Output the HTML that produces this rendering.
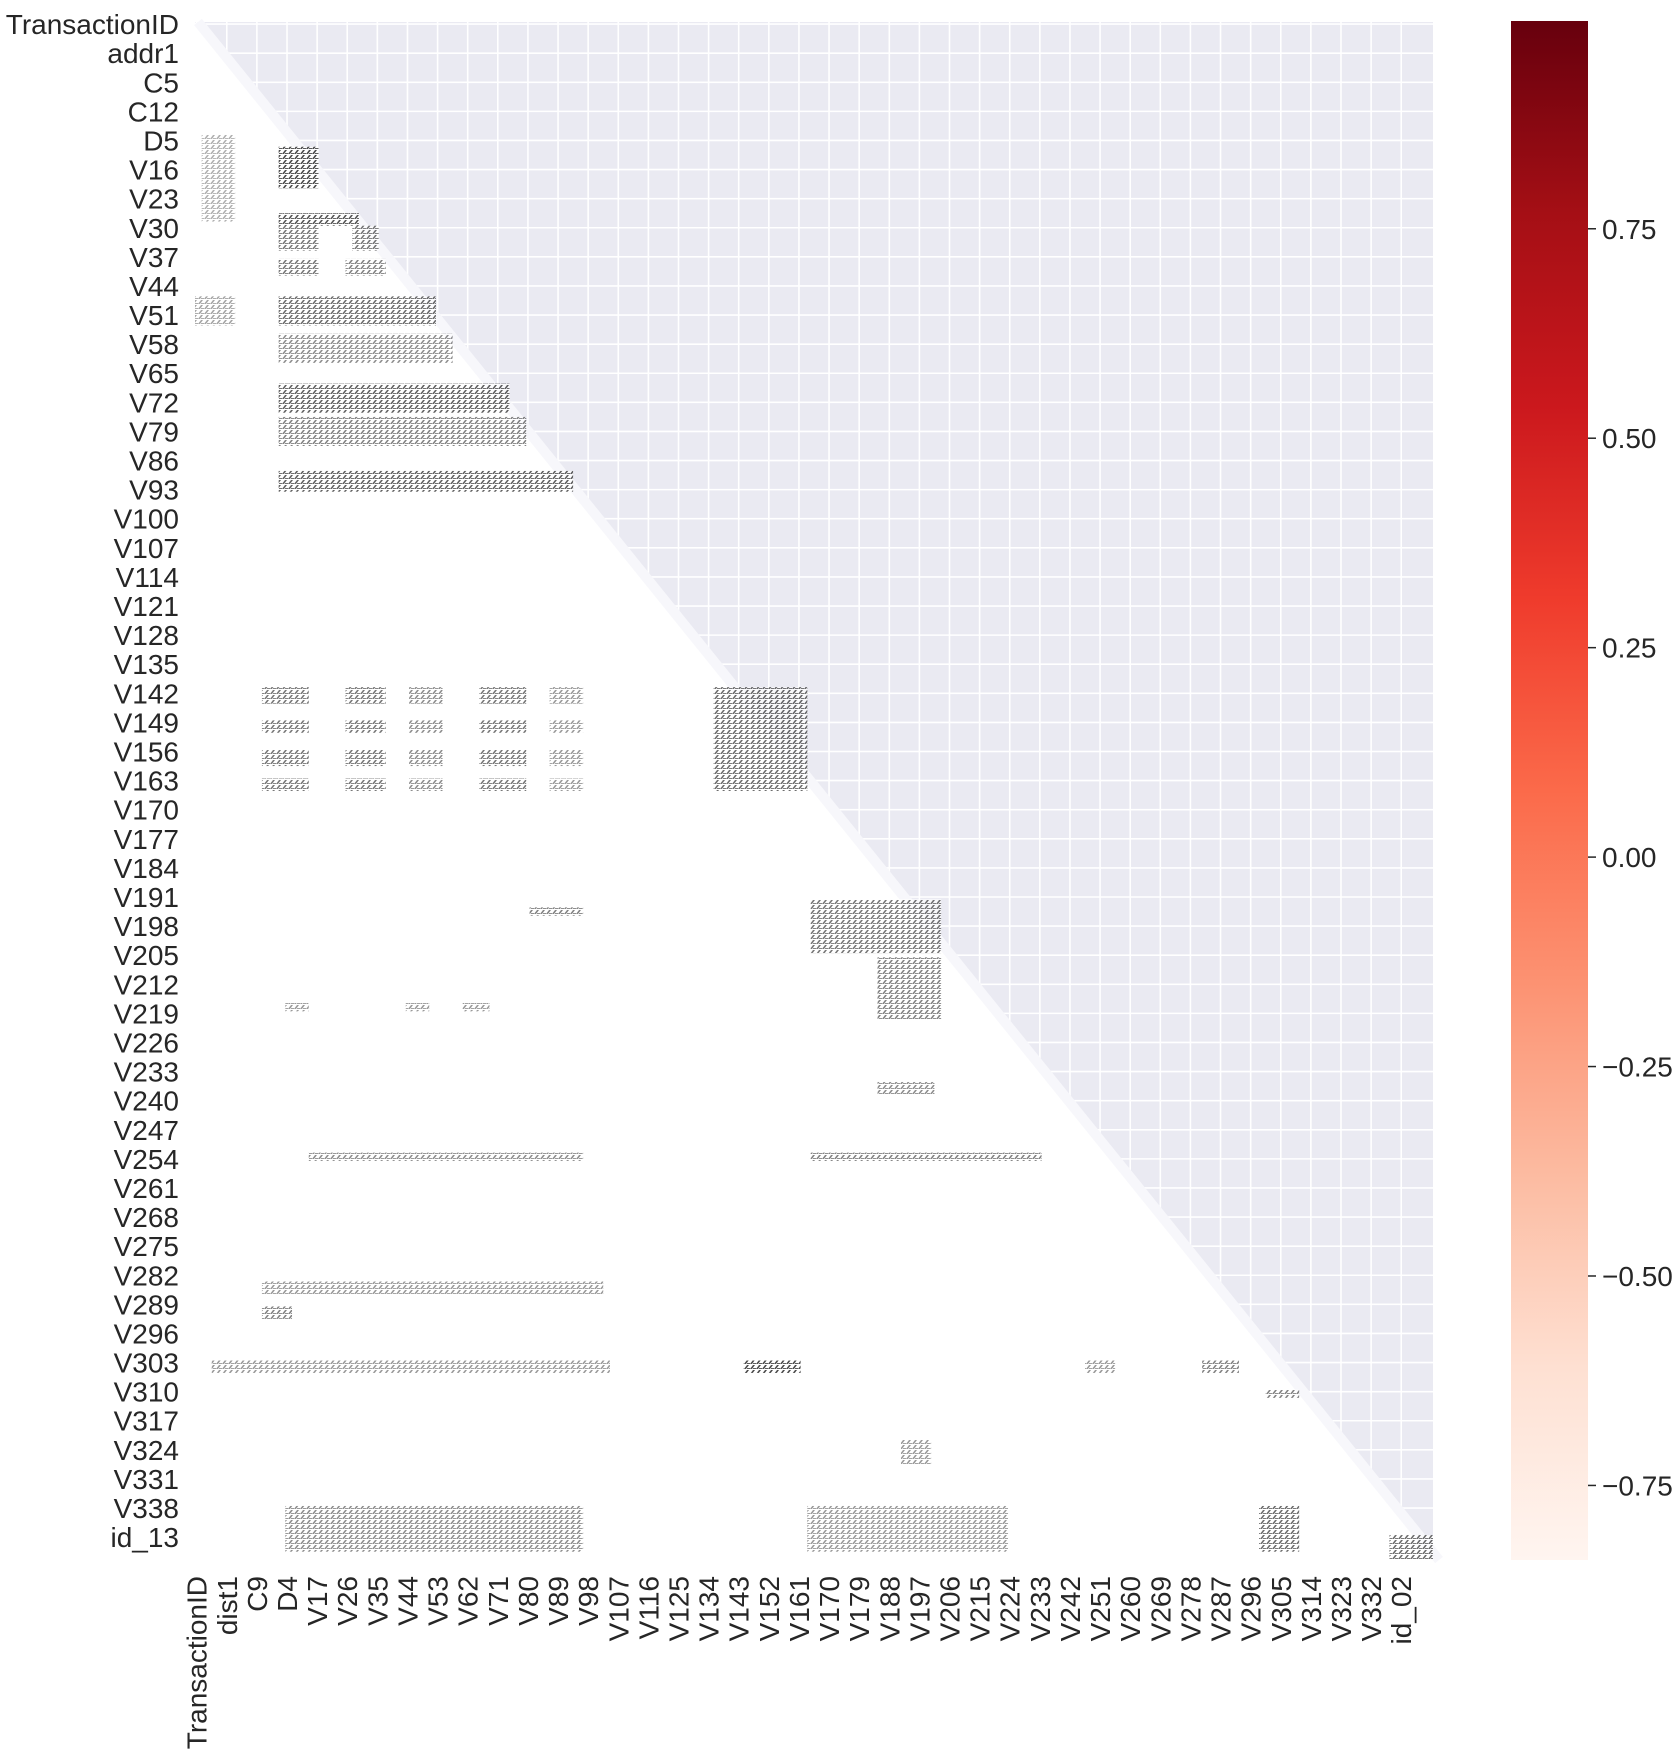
<!DOCTYPE html>
<html><head><meta charset="utf-8"><style>
html,body{margin:0;padding:0;background:#fff;}
svg text{font-family:"Liberation Sans",Arial,sans-serif;fill:#262626;}
</style></head><body>
<svg id="chart" width="1680" height="1754" xmlns="http://www.w3.org/2000/svg">
<defs>
<pattern id="hatch" width="6" height="5" patternUnits="userSpaceOnUse">
<rect width="6" height="5" fill="#fff"/>
<path d="M0,4 L3,0 L5,0 L2,4 Z" fill="#1e1e1e"/>
<rect x="3" y="3" width="3" height="1" fill="#333"/>
</pattern>
<linearGradient id="reds" x1="0" y1="1" x2="0" y2="0">
<stop offset="0" stop-color="#fff5f0"/><stop offset="0.125" stop-color="#fee0d2"/>
<stop offset="0.25" stop-color="#fcbba1"/><stop offset="0.375" stop-color="#fc9272"/>
<stop offset="0.5" stop-color="#fb6a4a"/><stop offset="0.625" stop-color="#ef3b2c"/>
<stop offset="0.75" stop-color="#cb181d"/><stop offset="0.875" stop-color="#a50f15"/>
<stop offset="1" stop-color="#67000d"/>
</linearGradient>
</defs>
<g id="plot"></g>
<g id="cbar"></g>
</svg>
<script>
// ---- data ----
const nVars = 370;
const yTickLabels = ["TransactionID","addr1","C5","C12","D5","V16","V23","V30","V37","V44","V51","V58","V65","V72","V79","V86","V93","V100","V107","V114","V121","V128","V135","V142","V149","V156","V163","V170","V177","V184","V191","V198","V205","V212","V219","V226","V233","V240","V247","V254","V261","V268","V275","V282","V289","V296","V303","V310","V317","V324","V331","V338","id_13"];
const xTickLabels = ["TransactionID","dist1","C9","D4","V17","V26","V35","V44","V53","V62","V71","V80","V89","V98","V107","V116","V125","V134","V143","V152","V161","V170","V179","V188","V197","V206","V215","V224","V233","V242","V251","V260","V269","V278","V287","V296","V305","V314","V323","V332","id_02"];
const yTickStep = 7;
const xTickStep = 9;
// strongly-correlated blocks (annotated regions): row start/end, col start/end, strength
const blockRowStart = [30,27,46,49,49,57,57,66,66,75,87,95,108,
  160,160,160,160,160,168,168,168,168,168,175,175,175,175,175,182,182,182,182,182,
  160,211,225,255,213,236,236,236,272,272,303,309,322,322,322,322,329,341,357,357,357,364];
const blockRowEnd   = [40,48,49,55,55,61,61,73,73,82,94,102,113,
  164,164,164,164,164,171,171,171,171,171,179,179,179,179,179,185,185,185,185,185,
  185,224,240,258,215,238,238,238,274,274,306,312,325,325,325,325,331,347,368,368,368,370];
const blockColStart = [25,2,25,25,47,25,45,25,0,25,25,25,25,
  20,45,64,85,106,20,45,64,85,106,20,45,64,85,106,20,45,64,85,106,
  155,184,204,204,100,27,63,80,34,184,20,20,5,164,266,301,320,211,27,183,318,357];
const blockColEnd   = [37,12,57,37,57,37,57,72,12,77,99,99,116,
  34,57,74,99,116,34,57,74,99,116,34,57,74,99,116,34,57,74,99,116,
  183,223,223,221,116,34,70,88,116,253,122,29,124,181,275,312,330,220,116,243,330,370];
const blockStrength = [0.8,0.35,0.75,0.6,0.6,0.6,0.55,0.65,0.4,0.5,0.7,0.55,0.7,
  0.6,0.6,0.5,0.6,0.45,0.6,0.6,0.5,0.6,0.45,0.6,0.6,0.5,0.6,0.45,0.6,0.6,0.5,0.6,0.45,
  0.65,0.6,0.55,0.5,0.55,0.45,0.45,0.45,0.5,0.55,0.45,0.55,0.45,0.8,0.45,0.55,0.55,0.45,0.5,0.45,0.65,0.65];
const cbarTicks = [0.75,0.5,0.25,0,-0.25,-0.5,-0.75];
const cbarMin = -0.839, cbarMax = 0.998;

// ---- layout ----
const L=195, T=22, R=1433, B=1560;
const cw=(R-L)/nVars, ch=(B-T)/nVars;
const xPos = c => L + c*cw;
const yPos = r => T + r*ch;
const NS="http://www.w3.org/2000/svg";
function mk(tag, attrs, parent){const e=document.createElementNS(NS,tag);for(const k in attrs)e.setAttribute(k,attrs[k]);parent.appendChild(e);return e;}
const plot=document.getElementById('plot');

const bg=mk('rect',{x:L,y:T,width:R-L,height:B-T,fill:'#eaeaf2'},plot);


xTickLabels.forEach((t,i)=>{const x=xPos(i*xTickStep+0.5);const g=mk('line',{x1:x,x2:x,y1:T,y2:B,stroke:'#fff','stroke-width':1.6},plot);

});
yTickLabels.forEach((t,i)=>{const y=yPos(i*yTickStep+0.5);const g=mk('line',{x1:L,x2:R,y1:y,y2:y,stroke:'#fff','stroke-width':1.6},plot);

});

const tri=mk('polygon',{points:`${xPos(0)},${yPos(0)} ${xPos(nVars)+4},${yPos(nVars)} ${xPos(0)},${yPos(nVars)}`,fill:'#fff'},plot);


const edge=mk('line',{x1:xPos(0)+3,y1:yPos(0),x2:xPos(nVars)+6,y2:yPos(nVars),stroke:'#f7f7fb','stroke-width':10},plot);



blockRowStart.forEach((r0,i)=>{
  const r1=Math.min(blockRowEnd[i],nVars), c0=blockColStart[i], c1=Math.min(blockColEnd[i],r1);
  if(c1<=c0) return;
  const b=mk('rect',{x:xPos(c0),y:yPos(r0),width:xPos(c1)-xPos(c0),height:yPos(r1)-yPos(r0),fill:'url(#hatch)',opacity:blockStrength[i]},plot);
  
  
});

yTickLabels.forEach((t,i)=>{const y=yPos(i*yTickStep+0.5);const e=mk('text',{x:179,y:y+10,'text-anchor':'end','font-size':28},plot);e.textContent=t;

});
xTickLabels.forEach((t,i)=>{const x=xPos(i*xTickStep+0.5);const e=mk('text',{x:0,y:0,'text-anchor':'end','font-size':28,transform:`translate(${x+10},${B+16}) rotate(-90)`},plot);e.textContent=t;

});

// colorbar
const cb=document.getElementById('cbar');
const CX=1511, CW=77, CT=21, CB=1560;
const cbY = v => CB - (v-cbarMin)/(cbarMax-cbarMin)*(CB-CT);
const bar=mk('rect',{x:CX,y:CT,width:CW,height:CB-CT,fill:'url(#reds)'},cb);


cbarTicks.forEach(v=>{const y=cbY(v);
  const tk=mk('line',{x1:CX+CW,x2:CX+CW+8,y1:y,y2:y,stroke:'#262626','stroke-width':1.5},cb);
  
  
  const tx=mk('text',{x:CX+CW+14,y:y+10,'font-size':28},cb);
  tx.textContent=(v<0?'\u2212':'')+Math.abs(v).toFixed(2);
  
  
});
</script>
</body></html>
